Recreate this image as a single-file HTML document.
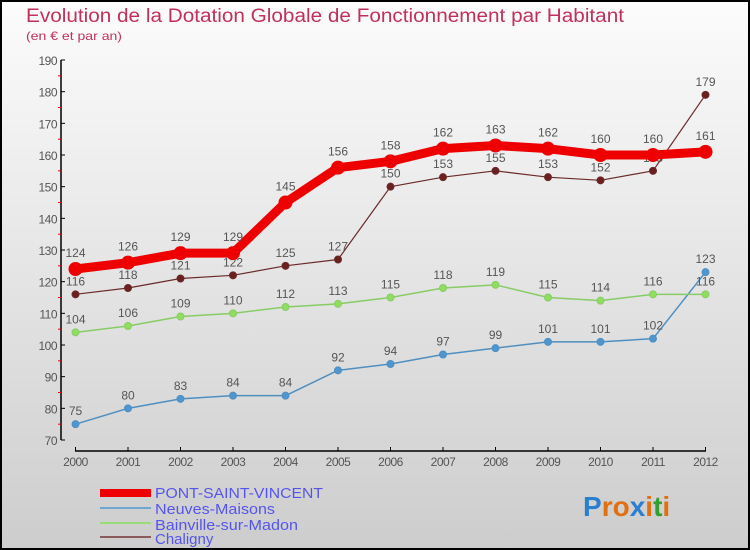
<!DOCTYPE html>
<html><head><meta charset="utf-8"><style>
body{margin:0}
svg{display:block;font-family:"Liberation Sans",sans-serif}
</style></head><body>
<svg width="750" height="550" xmlns="http://www.w3.org/2000/svg">
<defs><linearGradient id="bg" x1="0" y1="0" x2="0" y2="1"><stop offset="0" stop-color="#fcfcfc"/><stop offset="1" stop-color="#cdcdcd"/></linearGradient></defs>
<rect x="1" y="1" width="748" height="548" fill="url(#bg)" stroke="#000" stroke-width="2"/>
<text x="26" y="22" font-size="19" fill="#c0305a" textLength="598" lengthAdjust="spacingAndGlyphs">Evolution de la Dotation Globale de Fonctionnement par Habitant</text>
<text x="26" y="40" font-size="12" fill="#c0305a" textLength="96" lengthAdjust="spacingAndGlyphs">(en € et par an)</text>
<g id="axes"></g><g id="series"></g>
<g>
<rect x="100" y="489" width="51" height="8" fill="#e00"/>
<text x="155" y="498" font-size="15" fill="#5555ee" textLength="168" lengthAdjust="spacingAndGlyphs">PONT-SAINT-VINCENT</text>
<rect x="100" y="507" width="51" height="2" fill="#6fa6d2"/>
<text x="155" y="514" font-size="15" fill="#5555ee" textLength="120" lengthAdjust="spacingAndGlyphs">Neuves-Maisons</text>
<rect x="100" y="522" width="51" height="2" fill="#99dd77"/>
<text x="155" y="530" font-size="15" fill="#5555ee" textLength="143" lengthAdjust="spacingAndGlyphs">Bainville-sur-Madon</text>
<rect x="100" y="536" width="51" height="2" fill="#8b5a5a"/>
<text x="155" y="544" font-size="15" fill="#5555ee">Chaligny</text>
</g>
<g font-size="28" font-weight="bold">
<text x="583" y="516"><tspan fill="#2a7fd0">P</tspan><tspan fill="#e07010">r</tspan><tspan fill="#e07010">o</tspan><tspan fill="#2a7fd0">x</tspan><tspan fill="#e07010">i</tspan><tspan fill="#30a030">t</tspan><tspan fill="#e07010">i</tspan></text>
</g>
</svg>
<script>
const years=[2000,2001,2002,2003,2004,2005,2006,2007,2008,2009,2010,2011,2012];
const pont=[124,126,129,129,145,156,158,162,163,162,160,160,161];
const neuves=[75,80,83,84,84,92,94,97,99,101,101,102,123];
const bainville=[104,106,109,110,112,113,115,118,119,115,114,116,116];
const chaligny=[116,118,121,122,125,127,150,153,155,153,152,155,179];
const yTicks=[70,80,90,100,110,120,130,140,150,160,170,180,190];
const NS="http://www.w3.org/2000/svg";
const X=i=>75.5+i*(705.5-75.5)/(years.length-1);
const Y=v=>440-(v-70)*(380/120);
function mk(t,a,p){const e=document.createElementNS(NS,t);for(const k in a)e.setAttribute(k,a[k]);p.appendChild(e);return e;}
const ax=document.getElementById('axes');
let l=mk('line',{x1:61,y1:Y(190),x2:61,y2:440,stroke:'#000','stroke-width':1.5},ax);


l=mk('line',{x1:75,y1:451,x2:706,y2:451,stroke:'#000','stroke-width':1.5},ax);


yTicks.forEach(v=>{
  mk('line',{x1:61,y1:Y(v),x2:65,y2:Y(v),stroke:'#000'},ax);
  if(v<190)mk('line',{x1:58,y1:Y(v+5),x2:61,y2:Y(v+5),stroke:'#e00'},ax);
  const t=mk('text',{x:57,y:Y(v)+5,'font-size':12,fill:'#555','text-anchor':'end','letter-spacing':'-0.5'},ax);
  t.textContent=v;
  
  
});
years.forEach((y,i)=>{
  mk('line',{x1:X(i),y1:447,x2:X(i),y2:451,stroke:'#000'},ax);
  const t=mk('text',{x:X(i),y:466,'font-size':12,fill:'#555','text-anchor':'middle','letter-spacing':'-0.5'},ax);
  t.textContent=y;
  
  
});
const sg=document.getElementById('series');
function draw(name,vals,color,w,r,fill,labelOff){
  const g=mk('g',{},sg);
  
  
  const p=mk('polyline',{points:vals.map((v,i)=>X(i)+','+Y(v)).join(' '),fill:'none',stroke:color,'stroke-width':w,'stroke-linejoin':'round'},g);
  
  
  vals.forEach((v,i)=>{
    const c=mk('circle',{cx:X(i),cy:Y(v),r:r,fill:fill,stroke:color,'stroke-width':1},g);
    
    
    const t=mk('text',{x:X(i),y:Y(v)-labelOff,'font-size':12,fill:'#555','text-anchor':'middle'},g);
    t.textContent=v;
    
    
  });
}
draw('neuves',neuves,'#4f8fc0',1.5,3.5,'#4f96d0',9);
draw('bainville',bainville,'#88cc66',1.5,3.5,'#90dd60',9);
draw('chaligny',chaligny,'#6b2a2a',1.2,3.5,'#6b2020',9);
draw('pont',pont,'#ee0000',9,6.5,'#ee0000',12);
</script>
</body></html>
